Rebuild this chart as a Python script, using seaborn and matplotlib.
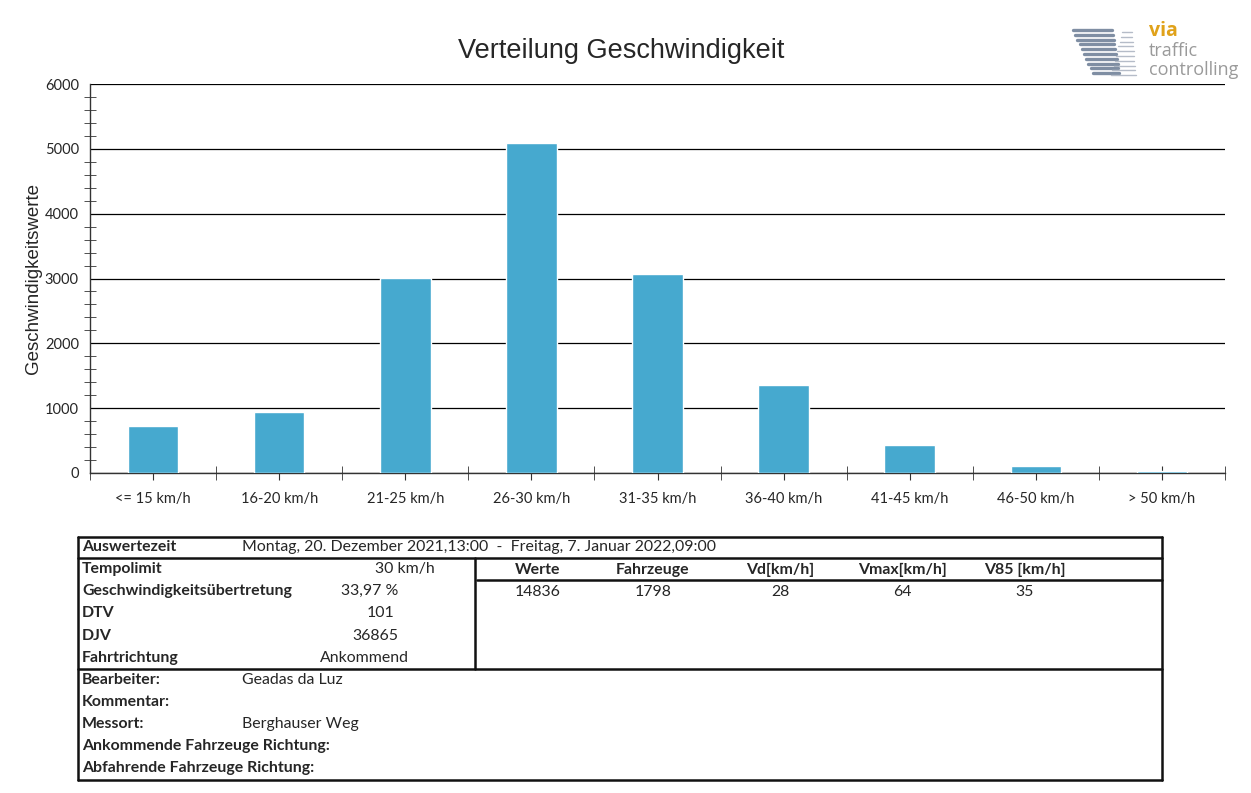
import numpy as np
import pandas as pd
import matplotlib
matplotlib.use("Agg")
import matplotlib.pyplot as plt
from matplotlib.lines import Line2D
import seaborn as sns

# chart data
categories = ["<= 15 km/h", "16-20 km/h", "21-25 km/h", "26-30 km/h", "31-35 km/h",
              "36-40 km/h", "41-45 km/h", "46-50 km/h", "> 50 km/h"]
counts = [725, 935, 3005, 5090, 3070, 1355, 425, 105, 25]

# table data
zeitraum = "Montag, 20. Dezember 2021,13:00  -  Freitag, 7. Januar 2022,09:00"
info_labels = ["Tempolimit", "Geschwindigkeitsübertretung", "DTV", "DJV", "Fahrtrichtung"]
info_values = ["30 km/h", "33,97 %", "101", "36865", "Ankommend"]
stat_headers = ["Werte", "Fahrzeuge", "Vd[km/h]", "Vmax[km/h]", "V85 [km/h]"]
stat_values = ["14836", "1798", "28", "64", "35"]
meta_labels = ["Bearbeiter:", "Kommentar:", "Messort:",
               "Ankommende Fahrzeuge Richtung:", "Abfahrende Fahrzeuge Richtung:"]
meta_values = ["Geadas da Luz", "", "Berghauser Weg", "", ""]

df = pd.DataFrame({"Kategorie": categories, "Anzahl": counts})

sns.set_style("white")
plt.rcParams["font.family"] = ["Liberation Sans", "DejaVu Sans"]

W, H = 1251, 793
fig = plt.figure(figsize=(W / 100, H / 100), dpi=100)

def fx(px):
    return px / W

def fy(py):
    return 1 - py / H

ax = fig.add_axes([fx(90), fy(473), fx(1225) - fx(90), fy(84) - fy(473)])
sns.barplot(data=df, x="Kategorie", y="Anzahl", color="#46a9cf", width=0.4,
            saturation=1, ax=ax, zorder=3)
ax.set_xlim(-0.5, len(categories) - 0.5)
ax.set_ylim(0, 6000)
ax.set_yticks(np.arange(0, 6001, 1000))
ax.set_yticks(np.arange(0, 6001, 200), minor=True)
ax.set_xticks(np.arange(-0.5, len(categories), 1), minor=True)
ax.yaxis.grid(True, which="major", color="black", lw=0.9)
ax.set_axisbelow(True)
for s in ["top", "right"]:
    ax.spines[s].set_visible(False)
for s in ["left", "bottom"]:
    ax.spines[s].set_color("#333333")
    ax.spines[s].set_linewidth(1.0)
ax.tick_params(axis="y", which="major", direction="out", length=5, color="#333333",
               labelsize=10.5, pad=3)
ax.tick_params(axis="y", which="minor", direction="inout", length=8, color="#333333", left=True)
ax.tick_params(axis="x", which="both", direction="inout", length=10, color="#333333",
               labelsize=10.5, pad=9, bottom=True)
for lab in ax.get_xticklabels() + ax.get_yticklabels():
    lab.set_fontfamily(["Lato", "DejaVu Sans"])
ax.set_xlabel("")
ax.set_ylabel("Geschwindigkeitswerte", fontsize=13.5, labelpad=2)

fig.text(fx(621), fy(51), "Verteilung Geschwindigkeit", ha="center", va="center", fontsize=19.5)

# logo
for i in range(10):
    y = 30 + i * 4.8
    fig.add_artist(Line2D([fx(1073 + i * 2.2), fx(1112 + i * 0.8)], [fy(y), fy(y)],
                          color="#7f8ea3", lw=2.4))
    fig.add_artist(Line2D([fx(1122 - i * 1.2), fx(1132 + i * 0.4)], [fy(y + 2), fy(y + 2)],
                          color="#b5bcc8", lw=1.0))
fig.text(fx(1149), fy(31), "via", ha="left", va="center", fontsize=14, fontweight="bold",
         color="#e0a21a", family=["Open Sans", "DejaVu Sans"])
fig.text(fx(1149), fy(51), "traffic", ha="left", va="center", fontsize=13,
         color="#9a9a9a", family=["Open Sans", "DejaVu Sans"])
fig.text(fx(1149), fy(70), "controlling", ha="left", va="center", fontsize=13,
         color="#9a9a9a", family=["Open Sans", "DejaVu Sans"])

# table
tf = ["Lato", "DejaVu Sans"]
ts = 11.4

def hline(x0, x1, y, lw=1.8):
    fig.add_artist(Line2D([fx(x0), fx(x1)], [fy(y), fy(y)], color="#111111", lw=lw))

def vline(x, y0, y1, lw=1.8):
    fig.add_artist(Line2D([fx(x), fx(x)], [fy(y0), fy(y1)], color="#111111", lw=lw))

hline(78, 1162, 537)
hline(78, 1162, 558)
hline(78, 1162, 669)
hline(78, 1162, 780)
hline(477, 1162, 580)
vline(78, 537, 780)
vline(1162, 537, 780)
vline(475, 558, 669)

fig.text(fx(82), fy(547), "Auswertezeit", fontsize=ts, fontweight="bold", family=tf, va="center")
fig.text(fx(242), fy(547), zeitraum, fontsize=ts, family=tf, va="center")

info_centers = [405, 370, 381, 375, 364]
for i, (lab, val) in enumerate(zip(info_labels, info_values)):
    y = 569 + i * 22.2
    fig.text(fx(82), fy(y), lab, fontsize=ts, fontweight="bold", family=tf, va="center")
    fig.text(fx(info_centers[i]), fy(y), val, fontsize=ts, family=tf, va="center", ha="center")

stat_centers = [538, 653, 780, 902, 1025]
for xc, hd, v in zip(stat_centers, stat_headers, stat_values):
    fig.text(fx(xc), fy(570), hd, fontsize=ts, fontweight="bold", family=tf, va="center", ha="center")
    fig.text(fx(xc), fy(592), v, fontsize=ts, family=tf, va="center", ha="center")

for i, (lab, val) in enumerate(zip(meta_labels, meta_values)):
    y = 680 + i * 22
    fig.text(fx(82), fy(y), lab, fontsize=ts, fontweight="bold", family=tf, va="center")
    if val:
        fig.text(fx(242), fy(y), val, fontsize=ts, family=tf, va="center")

fig.savefig("out.png", dpi=100, facecolor="white")
